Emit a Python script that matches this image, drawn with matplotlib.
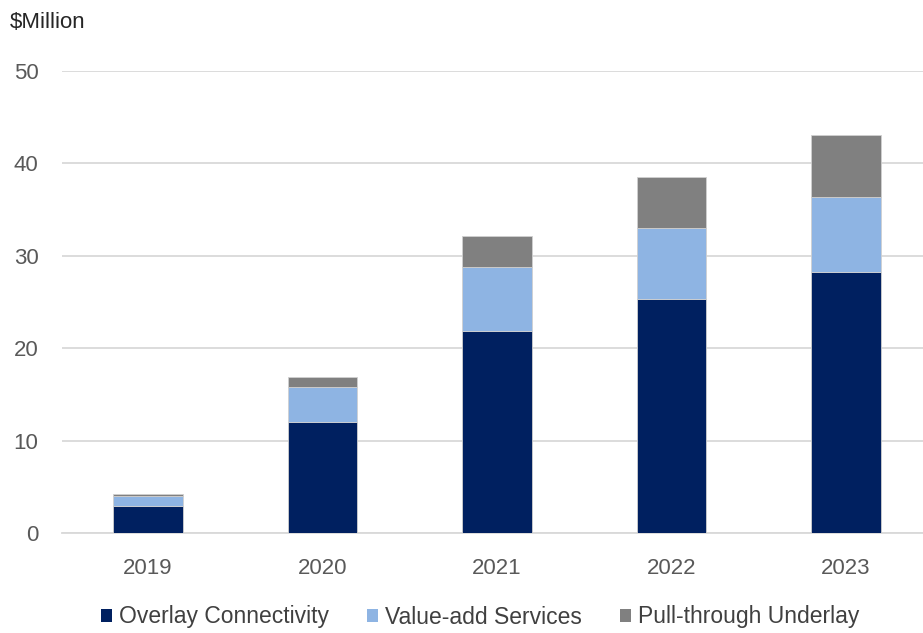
import matplotlib
matplotlib.use("Agg")
import matplotlib.pyplot as plt
from matplotlib.patches import Patch
import numpy as np

years = ["2019", "2020", "2021", "2022", "2023"]
overlay = [3.0, 12.0, 21.9, 25.3, 28.3]
value_add = [1.0, 3.8, 6.85, 7.75, 8.1]
pull_through = [0.25, 1.1, 3.45, 5.45, 6.7]
series_names = ["Overlay Connectivity", "Value-add Services", "Pull-through Underlay"]
colors = ["#002060", "#8EB4E3", "#808080"]

plt.rcParams["font.family"] = ["Liberation Sans", "DejaVu Sans"]

fig = plt.figure(figsize=(9.23, 6.33), dpi=100)
ax = fig.add_axes([62 / 923, 1 - 533.3 / 633, 1 - 62 / 923, (533.3 - 71) / 633])

x = np.arange(len(years))
w = 0.4
bottom = np.zeros(len(years))
for vals, col in zip([overlay, value_add, pull_through], colors):
    ax.bar(x, vals, w, bottom=bottom, color=col, zorder=3,
           edgecolor="#d0d0d0", linewidth=0.6)
    bottom += np.array(vals)

ax.set_ylim(0, 50)
ax.set_xlim(-0.493, 4.441)
ax.set_yticks(range(0, 51, 10))
ax.yaxis.grid(True, color="#D9D9D9", linewidth=1.3, zorder=0)
ax.set_axisbelow(True)
for s in ["top", "right", "left"]:
    ax.spines[s].set_visible(False)
ax.spines["bottom"].set_color("#D9D9D9")
ax.spines["bottom"].set_linewidth(1.3)
ax.tick_params(axis="both", length=0, labelsize=16, colors="#595959")
ax.tick_params(axis="y", pad=17)
ax.tick_params(axis="x", pad=18)
ax.set_xticks(x)
ax.set_xticklabels(years)

fig.text(10 / 923, 1 - 22 / 633, "$Million", fontsize=16, color="#262626",
         va="center", ha="left")

handles = [Patch(facecolor=c, edgecolor="none") for c in colors]
fig.legend(handles, series_names, loc="center", ncol=3,
           bbox_to_anchor=(480 / 923, 1 - 617 / 633), frameon=False,
           fontsize=16.5, labelcolor="#404040", handlelength=0.5,
           handleheight=0.5, handletextpad=0.3, columnspacing=1.65)

fig.savefig("out.png", dpi=100)
